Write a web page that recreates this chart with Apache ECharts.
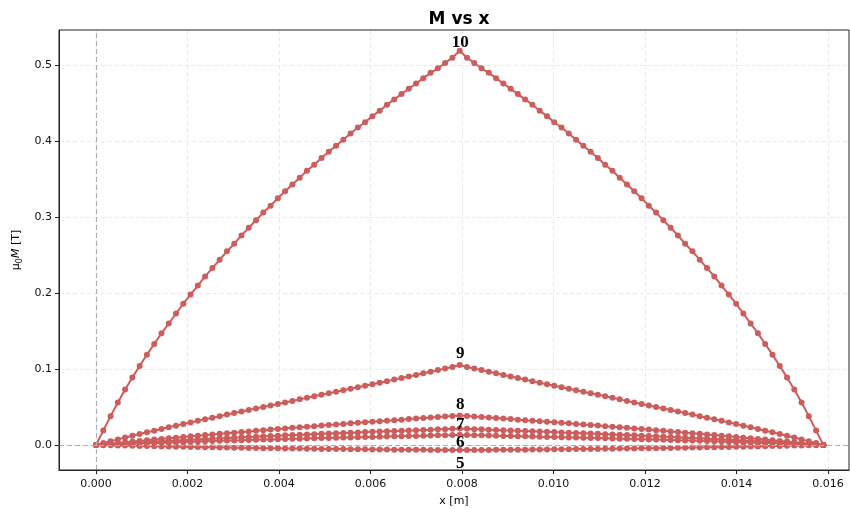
<!DOCTYPE html>
<html>
<head>
<meta charset="utf-8">
<script src="https://cdn.jsdelivr.net/npm/echarts@6/dist/echarts.min.js"></script>
<style>
html,body{margin:0;padding:0;background:#fff;}
#chart{width:850px;height:509px;}
</style>
</head>
<body>
<div id="chart"></div>
<script>
// x positions [m]
var xValues = [0,0.000159,0.000318,0.000477,0.000636,0.000795,0.000954,0.001113,0.001272,0.001431,
0.00159,0.001749,0.001908,0.002067,0.002226,0.002385,0.002544,0.002703,0.002862,0.003021,
0.00318,0.003339,0.003498,0.003657,0.003816,0.003975,0.004134,0.004293,0.004452,0.004611,
0.00477,0.004929,0.005088,0.005247,0.005406,0.005565,0.005724,0.005883,0.006042,0.006201,
0.00636,0.006519,0.006678,0.006837,0.006996,0.007155,0.007314,0.007473,0.007632,0.007791,
0.00795,
0.008109,0.008268,0.008427,0.008586,0.008745,0.008904,0.009063,0.009222,0.009381,0.00954,
0.009699,0.009858,0.010017,0.010176,0.010335,0.010494,0.010653,0.010812,0.010971,0.01113,
0.011289,0.011448,0.011607,0.011766,0.011925,0.012084,0.012243,0.012402,0.012561,0.01272,
0.012879,0.013038,0.013197,0.013356,0.013515,0.013674,0.013833,0.013992,0.014151,0.01431,
0.014469,0.014628,0.014787,0.014946,0.015105,0.015264,0.015423,0.015582,0.015741,0.0159];

var m10 = [0,.019,.038,.056,.073,.089,.104,.119,.133,.147,.160,.173,.186,.198,.210,.222,.233,.244,.255,.265,.276,.286,.296,.306,.315,.325,.334,.343,.352,.361,.369,.378,.386,.394,.402,.410,.418,.425,.433,.440,.448,.455,.462,.469,.476,.483,.490,.496,.503,.510,.519,
.510,.503,.496,.490,.483,.476,.469,.462,.455,.448,.440,.433,.425,.418,.410,.402,.394,.386,.378,.369,.361,.352,.343,.334,.325,.315,.306,.296,.286,.276,.265,.255,.244,.233,.222,.210,.198,.186,.173,.160,.147,.133,.119,.104,.089,.073,.056,.038,.019,0];

var m9 = [0,.0025,.0050,.0074,.0098,.0121,.0144,.0167,.0189,.0211,.0233,.0255,.0276,.0297,.0318,.0339,.0360,.0380,.0401,.0421,.0441,.0461,.0481,.0501,.0521,.0541,.0561,.0581,.0601,.0621,.0641,.0661,.0681,.0701,.0721,.0741,.0761,.0781,.0801,.0821,.0841,.0861,.0881,.0902,.0923,.0944,.0965,.0986,.1007,.1028,.1055,
.1028,.1007,.0986,.0965,.0944,.0923,.0902,.0881,.0861,.0841,.0821,.0801,.0781,.0761,.0741,.0721,.0701,.0681,.0661,.0641,.0621,.0601,.0581,.0561,.0541,.0521,.0501,.0481,.0461,.0441,.0421,.0401,.0380,.0360,.0339,.0318,.0297,.0276,.0255,.0233,.0211,.0189,.0167,.0144,.0121,.0098,.0074,.0050,.0025,0];

var m8 = [0,.0009,.0018,.0027,.0036,.0045,.0054,.0063,.0071,.0080,.0089,.0097,.0106,.0114,.0123,.0131,.0139,.0147,.0155,.0163,.0171,.0179,.0187,.0195,.0203,.0211,.0218,.0226,.0233,.0241,.0248,.0256,.0263,.0270,.0278,.0285,.0292,.0299,.0306,.0313,.0320,.0327,.0334,.0341,.0348,.0355,.0362,.0369,.0375,.0381,.0388,
.0381,.0375,.0369,.0362,.0355,.0348,.0341,.0334,.0327,.0320,.0313,.0306,.0299,.0292,.0285,.0278,.0270,.0263,.0256,.0248,.0241,.0233,.0226,.0218,.0211,.0203,.0195,.0187,.0179,.0171,.0163,.0155,.0147,.0139,.0131,.0123,.0114,.0106,.0097,.0089,.0080,.0071,.0063,.0054,.0045,.0036,.0027,.0018,.0009,0];

var m7 = [0,.0006,.0012,.0017,.0023,.0028,.0034,.0039,.0044,.0049,.0054,.0059,.0064,.0069,.0074,.0079,.0083,.0088,.0092,.0097,.0101,.0106,.0110,.0114,.0118,.0123,.0127,.0131,.0135,.0139,.0143,.0147,.0151,.0155,.0159,.0163,.0166,.0170,.0174,.0177,.0181,.0185,.0188,.0192,.0195,.0199,.0202,.0206,.0209,.0213,.0218,
.0213,.0209,.0206,.0202,.0199,.0195,.0192,.0188,.0185,.0181,.0177,.0174,.0170,.0166,.0163,.0159,.0155,.0151,.0147,.0143,.0139,.0135,.0131,.0127,.0123,.0118,.0114,.0110,.0106,.0101,.0097,.0092,.0088,.0083,.0079,.0074,.0069,.0064,.0059,.0054,.0049,.0044,.0039,.0034,.0028,.0023,.0017,.0012,.0006,0];

var m6 = [0,.0004,.0008,.0011,.0015,.0018,.0022,.0025,.0028,.0031,.0034,.0037,.0040,.0043,.0046,.0049,.0052,.0055,.0058,.0061,.0063,.0066,.0069,.0071,.0074,.0076,.0079,.0081,.0084,.0086,.0089,.0091,.0093,.0096,.0098,.0100,.0103,.0105,.0107,.0109,.0112,.0114,.0116,.0118,.0120,.0122,.0125,.0127,.0129,.0131,.0135,
.0131,.0129,.0127,.0125,.0122,.0120,.0118,.0116,.0114,.0112,.0109,.0107,.0105,.0103,.0100,.0098,.0096,.0093,.0091,.0089,.0086,.0084,.0081,.0079,.0076,.0074,.0071,.0069,.0066,.0063,.0061,.0058,.0055,.0052,.0049,.0046,.0043,.0040,.0037,.0034,.0031,.0028,.0025,.0022,.0018,.0015,.0011,.0008,.0004,0];

var m5 = [0,-.0002,-.0004,-.0006,-.0008,-.0010,-.0012,-.0014,-.0016,-.0018,-.0020,-.0022,-.0024,-.0025,-.0027,-.0029,-.0030,-.0032,-.0033,-.0035,-.0036,-.0038,-.0039,-.0041,-.0042,-.0043,-.0045,-.0046,-.0047,-.0048,-.0050,-.0051,-.0052,-.0053,-.0054,-.0055,-.0056,-.0057,-.0058,-.0059,-.0060,-.0061,-.0062,-.0062,-.0063,-.0064,-.0065,-.0065,-.0066,-.0066,-.0067,
-.0066,-.0066,-.0065,-.0065,-.0064,-.0063,-.0062,-.0062,-.0061,-.0060,-.0059,-.0058,-.0057,-.0056,-.0055,-.0054,-.0053,-.0052,-.0051,-.0050,-.0048,-.0047,-.0046,-.0045,-.0043,-.0042,-.0041,-.0039,-.0038,-.0036,-.0035,-.0033,-.0032,-.0030,-.0029,-.0027,-.0025,-.0024,-.0022,-.0020,-.0018,-.0016,-.0014,-.0012,-.0010,-.0008,-.0006,-.0004,-.0002,0];

var seriesNames = ['5','6','7','8','9','10'];
var seriesValues = [m5, m6, m7, m8, m9, m10];

// curve annotations (text, anchor x, anchor y in data units)
var labelTexts = ['5','6','7','8','9','10'];
var labelX = [0.00796,0.00796,0.00796,0.00796,0.00796,0.00796];
var labelY = [-0.0241,0.0030,0.0272,0.0526,0.1197,0.5300];

seriesValues.forEach(function(a, k){
  if (a.length !== xValues.length) throw new Error('length mismatch series ' + seriesNames[k] + ': ' + a.length);
});

var COLOR = '#cd5c5c';
var series = seriesValues.map(function(vals, k){
  return {
    name: seriesNames[k],
    type: 'line',
    data: vals.map(function(v, i){ return [xValues[i], v]; }),
    symbol: 'circle',
    symbolSize: 6,
    showSymbol: true,
    lineStyle: {color: COLOR, width: 2},
    itemStyle: {color: COLOR},
    emphasis: {disabled: true},
    animation: false,
    z: 3
  };
});

series.push({
  type: 'line',
  data: [],
  silent: true,
  markLine: {
    silent: true,
    symbol: ['none','none'],
    label: {show: false},
    lineStyle: {color: '#b0b0b0', type: [5, 3], width: 1.2},
    data: [{xAxis: 0}, {yAxis: 0}],
    animation: false
  },
  z: 2
});

series.push({
  type: 'scatter',
  silent: true,
  symbolSize: 0,
  itemStyle: {opacity: 1},
  data: labelTexts.map(function(t, i){ return [labelX[i], labelY[i], t]; }),
  label: {
    show: true,
    position: 'inside',
    formatter: function(p){ return p.data[2]; },
    fontFamily: 'Liberation Serif',
    fontWeight: 'bold',
    fontSize: 17,
    color: '#000',
    opacity: 1
  },
  animation: false,
  z: 5
});

var chart = echarts.init(document.getElementById('chart'), null, {renderer: 'canvas'});
chart.setOption({
  backgroundColor: '#fff',
  animation: false,
  title: {
    text: 'M vs x',
    left: 454,
    top: 6,
    textAlign: 'center',
    textStyle: {fontFamily: 'DejaVu Sans', fontWeight: 'bold', fontSize: 17, color: '#000'}
  },
  grid: {
    left: 59, right: 1, top: 30, bottom: 39,
    containLabel: false,
    outerBoundsMode: 'none',
    show: true, borderColor: '#222', borderWidth: 1, backgroundColor: 'transparent', z: 10
  },
  xAxis: {
    type: 'value',
    min: -0.000809,
    max: 0.01646,
    splitNumber: 8,
    name: 'x [m]',
    nameLocation: 'middle',
    nameGap: 26,
    nameTextStyle: {fontFamily: 'DejaVu Sans', fontSize: 11, color: '#000'},
    axisLine: {show: true, onZero: false, lineStyle: {color: '#222', width: 1}},
    axisTick: {show: true, inside: false, length: 4, lineStyle: {color: '#222'}},
    axisLabel: {
      showMinLabel: false, showMaxLabel: false,
      margin: 9,
      fontFamily: 'DejaVu Sans', fontSize: 11, color: '#111',
      formatter: function(v){ return v.toFixed(3); }
    },
    splitLine: {show: true, showMinLine: false, showMaxLine: false, lineStyle: {color: '#e3e3e3', type: [4, 3], width: 0.8}}
  },
  yAxis: {
    type: 'value',
    min: -0.0329,
    max: 0.5464,
    splitNumber: 6,
    name: '{g|μ}{s|0}{i|M}{g| [T]}',
    nameLocation: 'middle',
    nameGap: 32,
    nameRotate: 90,
    nameTextStyle: {
      fontFamily: 'DejaVu Sans', fontSize: 11, color: '#000',
      rich: {
        g: {fontFamily: 'DejaVu Sans', fontSize: 11, color: '#000'},
        s: {fontFamily: 'DejaVu Sans', fontSize: 8, color: '#000', verticalAlign: 'bottom', padding: [6,0,0,0]},
        i: {fontFamily: 'DejaVu Sans', fontStyle: 'italic', fontSize: 11, color: '#000'}
      }
    },
    axisLine: {show: true, onZero: false, lineStyle: {color: '#222', width: 1}},
    axisTick: {show: true, inside: false, length: 4, lineStyle: {color: '#222'}},
    axisLabel: {
      showMinLabel: false, showMaxLabel: false,
      margin: 7,
      fontFamily: 'DejaVu Sans', fontSize: 11, color: '#111',
      formatter: function(v){ return v.toFixed(1); }
    },
    splitLine: {show: true, showMinLine: false, showMaxLine: false, lineStyle: {color: '#e3e3e3', type: [4, 3], width: 0.8}}
  },
  series: series
});
</script>
</body>
</html>
